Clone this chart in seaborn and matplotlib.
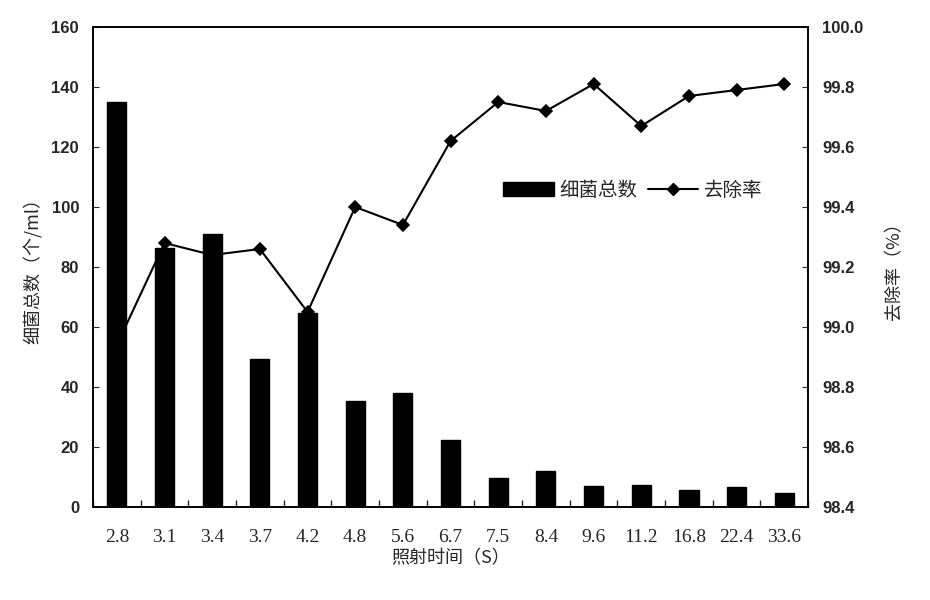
import numpy as np
import pandas as pd
import matplotlib
matplotlib.use("Agg")
import matplotlib.pyplot as plt
import matplotlib.patches as mpatches
import matplotlib.lines as mlines
import seaborn as sns

# data
times = ["2.8", "3.1", "3.4", "3.7", "4.2", "4.8", "5.6", "6.7", "7.5",
         "8.4", "9.6", "11.2", "16.8", "22.4", "33.6"]
bacteria = [135, 86.3, 91, 49.3, 64.7, 35.3, 38, 22.3, 9.7, 12, 7, 7.3, 5.7, 6.7, 4.7]
removal = [98.94, 99.28, 99.24, 99.26, 99.05, 99.40, 99.34, 99.62, 99.75,
           99.72, 99.81, 99.67, 99.77, 99.79, 99.81]

df = pd.DataFrame({"time": times, "count": bacteria, "rate": removal})

sns.set_style("ticks")
plt.rcParams['font.family'] = ['Liberation Sans', 'Noto Sans CJK SC']
cjk = ["Noto Sans CJK SC", "DejaVu Sans"]

fig = plt.figure(figsize=(9.3, 6), dpi=100)
ax = fig.add_axes([0.1, 0.155, 0.769, 0.8])

sns.barplot(data=df, x="time", y="count", color="black", width=0.4,
            saturation=1, ax=ax, edgecolor="black")
ax.set_ylim(0, 160)
ax.set_yticks(np.arange(0, 161, 20))
ax.set_xlim(-0.5, len(times) - 0.5)

ax2 = ax.twinx()
sns.pointplot(data=df, x="time", y="rate", color="black", markers="D",
              linestyles="-", ax=ax2, markersize=6, linewidth=1.5)
ax2.set_ylim(98.4, 100.0)
ax2.set_yticks(np.arange(98.4, 100.01, 0.2))
ax2.set_yticklabels([f"{v:.1f}" for v in np.arange(98.4, 100.01, 0.2)])
ax2.set_xlim(-0.5, len(times) - 0.5)

# bars drawn over the line, as in the original
ax.set_zorder(ax2.get_zorder() + 1)
ax.patch.set_visible(False)

# tick styling
ax.set_xticks(np.arange(len(times)))
ax.set_xticklabels(times, family="Liberation Serif", fontsize=14)
ax.set_xticks(np.arange(-0.5, len(times), 1), minor=True)
ax.tick_params(axis="x", which="major", length=0, pad=16)
ax.tick_params(axis="x", which="minor", direction="in", length=5, width=1)
ax.tick_params(axis="y", direction="in", length=4, labelsize=12, pad=10)
ax2.tick_params(axis="y", direction="in", length=4, labelsize=12, pad=10)
for t in ax.get_yticklabels() + ax2.get_yticklabels():
    t.set_fontweight("bold")

for a in (ax, ax2):
    for s in a.spines.values():
        s.set_visible(True)
        s.set_linewidth(1.2)
        s.set_color("black")

ax.set_xlabel("照射时间（S）", fontsize=13, labelpad=2, family=cjk)
ax.set_ylabel("细菌总数（个/ml）", fontsize=13, labelpad=6, family=cjk)
ax2.set_ylabel("去除率（%）", fontsize=13, labelpad=16, family=cjk)

bar_handle = mpatches.Patch(color="black")
line_handle = mlines.Line2D([], [], color="black", marker="D", markersize=6, linewidth=1.5)
ax.legend([bar_handle, line_handle], ["细菌总数", "去除率"], ncol=2,
          loc="center", bbox_to_anchor=(0.755, 0.66), frameon=False,
          handlelength=2.6, handletextpad=0.3, columnspacing=0.5,
          prop={"family": cjk, "size": 14})

fig.savefig("out.png", dpi=100)
